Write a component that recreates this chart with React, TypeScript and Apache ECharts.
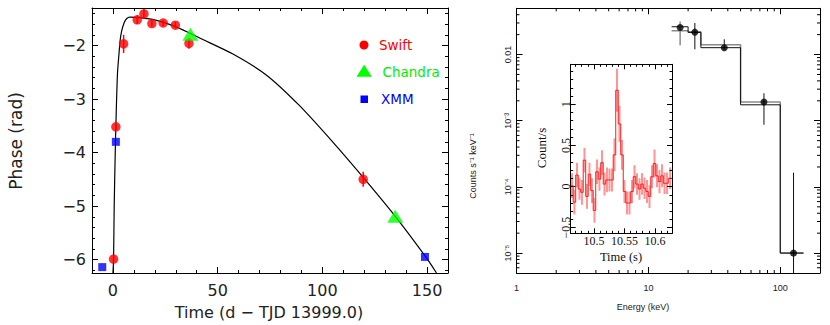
import React, { useEffect, useRef } from 'react';
import * as echarts from 'echarts';

// ---------- Left panel: phase vs time ----------
const curveT = [0.0, 0.3, 0.6, 1.1, 1.4, 1.75, 2.2, 2.9, 3.4, 4.1, 5.4, 6.5, 8.1, 12.9, 20.8, 28.7, 36.7, 41.4, 57.3, 73.2, 89.0, 104.9, 119.2, 135.0, 149.4, 154.5];
const curveP = [-6.25, -6.0, -5.0, -4.0, -3.5, -3.0, -2.5, -2.15, -1.92, -1.74, -1.57, -1.5, -1.47, -1.48, -1.53, -1.63, -1.77, -1.86, -2.16, -2.55, -3.12, -3.8, -4.45, -5.2, -5.95, -6.25];

const swiftT = [0.3, 1.4, 5.1, 11.6, 14.8, 18.6, 24.0, 29.8, 36.3, 119.5];
const swiftP = [-5.99, -3.52, -1.97, -1.52, -1.41, -1.59, -1.58, -1.62, -1.96, -4.5];
const swiftErr = [0.05, 0.06, 0.17, 0.08, 0.09, 0.06, 0.06, 0.06, 0.1, 0.14];

const chandraT = [37.0, 134.8];
const chandraP = [-1.79, -5.19];

const xmmT = [-5.1, 1.4, 149.0];
const xmmP = [-6.14, -3.8, -5.95];

const legendNames = ['Swift', 'Chandra', 'XMM'];

// ---------- Right panel: spectrum ----------
const specE = [17.4, 22.5, 37.6, 75.2, 126];
const specY = [0.0257, 0.0218, 0.0127, 0.00192, 1.0e-5];
const specLo = [0.0138, 0.012, 0.0116, 0.00087, 5e-6];
const specHi = [0.0316, 0.03, 0.017, 0.0026, 1.64e-4];
const binEdges = [15, 20, 25, 50, 100, 150];
const modelBlack = [0.0263, 0.0216, 0.0127, 0.00174, 1.0e-5];
const modelGray = [0.0229, 0.0222, 0.0141, 0.00192, 1.0e-5];

// ---------- Inset: light curve ----------
const lcEdges = [10.462, 10.4661, 10.4702, 10.4743, 10.4784, 10.4825, 10.4866, 10.4907, 10.4948, 10.4989, 10.503, 10.5071, 10.5112, 10.5153, 10.5194, 10.5235, 10.5276, 10.5317, 10.5358, 10.5399, 10.544, 10.5481, 10.5522, 10.5563, 10.5604, 10.5645, 10.5686, 10.5727, 10.5768, 10.5809, 10.585, 10.5891, 10.5932, 10.5973, 10.6014, 10.6055, 10.6096, 10.6137, 10.6178, 10.6219, 10.628];
const lcRate = [0.01, -0.19, 0.14, -0.03, -0.07, 0.32, -0.12, 0.15, -0.05, -0.29, 0.18, 0.09, 0.29, 0.03, 0.08, 0.08, 0.08, 0.385, 1.17, 0.76, 0.385, -0.06, -0.2, -0.2, -0.06, 0.12, 0.03, -0.03, 0.03, -0.02, -0.06, -0.12, 0.12, 0.28, 0.13, 0.06, 0.13, 0.04, 0.04, 0.1];
const lcErr = [0.15, 0.15, 0.15, 0.13, 0.15, 0.15, 0.15, 0.14, 0.15, 0.15, 0.15, 0.14, 0.15, 0.14, 0.15, 0.14, 0.14, 0.2, 0.26, 0.22, 0.18, 0.14, 0.14, 0.14, 0.14, 0.14, 0.13, 0.13, 0.13, 0.13, 0.14, 0.14, 0.14, 0.17, 0.14, 0.14, 0.14, 0.13, 0.13, 0.13];

const LEFT_FONT = 'DejaVu Sans';
const RIGHT_FONT = 'Liberation Sans';
const INSET_FONT = 'Liberation Serif';
const TXT = '#222';

const line1 = { color: '#000', width: 1 };
const minus = (v: number) => String(v).replace('-', '\u2212');
const sup: Record<string, string> = { '-': '\u207B', '0': '\u2070', '1': '\u00B9', '2': '\u00B2', '3': '\u00B3', '4': '\u2074', '5': '\u2075', '6': '\u2076', '7': '\u2077', '8': '\u2078', '9': '\u2079' };
const logLabel = (v: number) => {
  const e = Math.round(Math.log10(v));
  if (e === -2) return '0.01';
  return '10' + String(e).split('').map((c) => sup[c]).join('');
};

function valAxis(o: any) {
  const { show = true, tickLen = 6, minorLen = 3, minor = true, minorSplit = 5, label = {}, ...rest } = o;
  return {
    type: 'value',
    axisLine: { show: true, onZero: false, lineStyle: line1 },
    axisTick: { show: true, inside: true, length: tickLen, lineStyle: line1 },
    minorTick: { show: minor, splitNumber: minorSplit, length: minorLen, lineStyle: line1 },
    splitLine: { show: false },
    minorSplitLine: { show: false },
    axisLabel: show ? { showMinLabel: false, showMaxLabel: false, ...label } : { show: false },
    ...rest,
  };
}

function logAxis(o: any) {
  const { show = true, label = {}, ...rest } = o;
  return {
    type: 'log',
    logBase: 10,
    axisLine: { show: true, onZero: false, lineStyle: line1 },
    axisTick: { show: true, inside: true, length: 6, lineStyle: line1 },
    minorTick: { show: false },
    splitLine: { show: false },
    minorSplitLine: { show: false },
    axisLabel: show ? { ...label } : { show: false },
    ...rest,
  };
}

// axis decoration: log minor tick positions
const xMinor: number[][] = [];
[1, 10, 100].forEach((d) => { for (let k = 2; k <= 9; k++) { const v = d * k; if (v < 200) xMinor.push([v, 1e-3]); } });
const yMinor: number[][] = [];
[1e-6, 1e-5, 1e-4, 1e-3, 1e-2].forEach((d) => { for (let k = 2; k <= 9; k++) { const v = d * k; if (v > 5e-6 && v < 0.05) yMinor.push([2, v]); } });

function buildOption() {
  const errRender = (color: string, width: number) => (params: any, api: any) => {
    const x = api.value(0);
    const p1 = api.coord([x, api.value(1)]);
    const p2 = api.coord([x, api.value(2)]);
    return { type: 'line', shape: { x1: p1[0], y1: p1[1], x2: p2[0], y2: p2[1] }, style: { stroke: color, lineWidth: width } };
  };

  return {
    animation: false,
    backgroundColor: '#fff',
    grid: [
      { left: 92, top: 8, width: 356, height: 265 },
      { left: 516.5, top: 8.3, width: 303.5, height: 264.7 },
      { left: 570.7, top: 64.3, width: 101.3, height: 169, show: true, backgroundColor: '#fff', borderWidth: 0, z: 5 },
    ],
    xAxis: [
      valAxis({ gridIndex: 0, min: -10, max: 160, splitNumber: 3, label: { fontSize: 16, fontFamily: LEFT_FONT, color: TXT, margin: 9 } }),
      valAxis({ gridIndex: 0, position: 'top', min: -10, max: 160, splitNumber: 3, show: false }),
      logAxis({ gridIndex: 1, min: 1, max: 200, label: { fontSize: 9, fontFamily: RIGHT_FONT, color: TXT, margin: 10, showMaxLabel: false, formatter: (v: number) => String(Math.round(v)) } }),
      logAxis({ gridIndex: 1, position: 'top', min: 1, max: 200, show: false }),
      valAxis({ gridIndex: 2, min: 10.462, max: 10.628, splitNumber: 3, tickLen: 5, minorLen: 2.5, z: 6, label: { fontSize: 12, fontFamily: INSET_FONT, color: '#111', margin: 2 } }),
      valAxis({ gridIndex: 2, position: 'top', min: 10.462, max: 10.628, splitNumber: 3, tickLen: 5, minorLen: 2.5, show: false, z: 6 }),
    ],
    yAxis: [
      valAxis({ gridIndex: 0, min: -6.25, max: -1.3, splitNumber: 5, label: { fontSize: 16, fontFamily: LEFT_FONT, color: TXT, margin: 6, formatter: minus } }),
      valAxis({ gridIndex: 0, position: 'right', min: -6.25, max: -1.3, splitNumber: 5, show: false }),
      logAxis({ gridIndex: 1, min: 5e-6, max: 0.05, label: { fontSize: 9, fontFamily: RIGHT_FONT, color: TXT, margin: 4.5, rotate: 90, showMinLabel: false, showMaxLabel: false, formatter: logLabel } }),
      logAxis({ gridIndex: 1, position: 'right', min: 5e-6, max: 0.05, show: false }),
      valAxis({ gridIndex: 2, min: -0.568, max: 1.485, splitNumber: 4, tickLen: 5, minorLen: 2.5, z: 6, label: { fontSize: 12, fontFamily: INSET_FONT, color: '#111', margin: -1, rotate: 90, formatter: minus } }),
      valAxis({ gridIndex: 2, position: 'right', min: -0.568, max: 1.485, splitNumber: 4, tickLen: 5, minorLen: 2.5, show: false, z: 6 }),
    ],
    series: [
      // left
      { type: 'line', xAxisIndex: 0, yAxisIndex: 0, data: curveT.map((t, i) => [t, curveP[i]]), showSymbol: false, symbol: 'none', smooth: 0.25, lineStyle: { color: '#000', width: 1.2 }, z: 2 },
      { type: 'custom', xAxisIndex: 0, yAxisIndex: 0, data: swiftT.map((t, i) => [t, swiftP[i] - swiftErr[i], swiftP[i] + swiftErr[i]]), encode: { x: 0, y: [1, 2] }, renderItem: errRender('#ff0000', 1.5), z: 3 },
      { type: 'scatter', name: legendNames[0], xAxisIndex: 0, yAxisIndex: 0, data: swiftT.map((t, i) => [t, swiftP[i]]), symbol: 'circle', symbolSize: 9.5, itemStyle: { color: '#ff0000' }, z: 4 },
      { type: 'scatter', name: legendNames[1], xAxisIndex: 0, yAxisIndex: 0, data: chandraT.map((t, i) => [t, chandraP[i]]), symbol: 'triangle', symbolSize: [16, 13], itemStyle: { color: '#00ff00' }, z: 5 },
      { type: 'scatter', name: legendNames[2], xAxisIndex: 0, yAxisIndex: 0, data: xmmT.map((t, i) => [t, xmmP[i]]), symbol: 'rect', symbolSize: 8, itemStyle: { color: '#0000ff' }, z: 5 },
      // right
      { type: 'line', xAxisIndex: 2, yAxisIndex: 2, step: 'end', data: [...binEdges.slice(0, -1).map((e, i) => [e, modelGray[i]]), [binEdges[binEdges.length - 1], modelGray[modelGray.length - 1]]], showSymbol: false, symbol: 'none', lineStyle: { color: '#8a8a8a', width: 1.5 }, z: 2 },
      { type: 'line', xAxisIndex: 2, yAxisIndex: 2, step: 'end', data: [...binEdges.slice(0, -1).map((e, i) => [e, modelBlack[i]]), [binEdges[binEdges.length - 1], modelBlack[modelBlack.length - 1]]], showSymbol: false, symbol: 'none', lineStyle: { color: '#111', width: 1 }, z: 2 },
      {
        type: 'custom', xAxisIndex: 2, yAxisIndex: 2, clip: true,
        data: specE.map((e, i) => [e, specLo[i], specHi[i]]), encode: { x: 0, y: [1, 2] },
        renderItem: (params: any, api: any) => {
          const x = api.value(0);
          const p1 = api.coord([x, api.value(1)]);
          const p2 = api.coord([x, api.value(2)]);
          return { type: 'line', shape: { x1: p1[0], y1: p1[1], x2: p2[0], y2: p2[1] }, style: { stroke: params.dataIndex === 0 ? '#8a8a8a' : '#111', lineWidth: params.dataIndex === 0 ? 1.5 : 1 } };
        },
        z: 3,
      },
      { type: 'scatter', xAxisIndex: 2, yAxisIndex: 2, data: specE.map((e, i) => [e, specY[i]]), symbol: 'circle', symbolSize: 7, itemStyle: { color: '#000' }, z: 4 },
      {
        type: 'custom', xAxisIndex: 2, yAxisIndex: 2, data: xMinor, encode: { x: 0, y: 1 }, silent: true,
        renderItem: (params: any, api: any) => {
          const v = api.value(0);
          const b = api.coord([v, 5e-6]);
          const t = api.coord([v, 0.05]);
          return { type: 'group', children: [
            { type: 'line', shape: { x1: b[0], y1: b[1], x2: b[0], y2: b[1] - 3 }, style: { stroke: '#000', lineWidth: 1 } },
            { type: 'line', shape: { x1: t[0], y1: t[1], x2: t[0], y2: t[1] + 3 }, style: { stroke: '#000', lineWidth: 1 } },
          ] };
        },
      },
      {
        type: 'custom', xAxisIndex: 2, yAxisIndex: 2, data: yMinor, encode: { x: 0, y: 1 }, silent: true,
        renderItem: (params: any, api: any) => {
          const v = api.value(1);
          const l = api.coord([1, v]);
          const r = api.coord([200, v]);
          return { type: 'group', children: [
            { type: 'line', shape: { x1: l[0], y1: l[1], x2: l[0] + 3, y2: l[1] }, style: { stroke: '#000', lineWidth: 1 } },
            { type: 'line', shape: { x1: r[0], y1: r[1], x2: r[0] - 3, y2: r[1] }, style: { stroke: '#000', lineWidth: 1 } },
          ] };
        },
      },
      // inset
      {
        type: 'custom', xAxisIndex: 4, yAxisIndex: 4, clip: true, z: 6,
        data: lcRate.map((v, i) => [(lcEdges[i] + lcEdges[i + 1]) / 2, v - lcErr[i], v + lcErr[i]]), encode: { x: 0, y: [1, 2] },
        renderItem: errRender('rgba(255,60,60,0.55)', 2),
      },
      { type: 'line', xAxisIndex: 4, yAxisIndex: 4, step: 'end', z: 7, data: [...lcRate.map((v, i) => [lcEdges[i], v]), [lcEdges[lcEdges.length - 1], lcRate[lcRate.length - 1]]], showSymbol: false, symbol: 'none', lineStyle: { color: '#ff1a1a', width: 1 } },
    ],
    graphic: [
      { type: 'text', x: 16, y: 141, rotation: Math.PI / 2, style: { text: 'Phase (rad)', fontSize: 17, fontFamily: LEFT_FONT, fill: TXT, textAlign: 'center', textVerticalAlign: 'middle' } },
      { type: 'text', x: 269, y: 312, style: { text: 'Time (d \u2212 TJD 13999.0)', fontSize: 16, fontFamily: LEFT_FONT, fill: TXT, textAlign: 'center', textVerticalAlign: 'middle' } },
      { type: 'circle', shape: { cx: 364, cy: 45, r: 4.5 }, style: { fill: '#ff0000' } },
      { type: 'polygon', shape: { points: [[356.5, 76.7], [371.8, 76.7], [364.2, 64.8]] }, style: { fill: '#00ff00' } },
      { type: 'rect', shape: { x: 360.5, y: 95.5, width: 7.5, height: 7.5 }, style: { fill: '#0000ff' } },
      { type: 'text', x: 379, y: 45, style: { text: legendNames[0], fontSize: 13.5, fontFamily: LEFT_FONT, fill: '#ff0000', textVerticalAlign: 'middle' } },
      { type: 'text', x: 382.5, y: 71.5, style: { text: legendNames[1], fontSize: 13.5, fontFamily: LEFT_FONT, fill: '#00ee00', textVerticalAlign: 'middle' } },
      { type: 'text', x: 381, y: 99, style: { text: legendNames[2], fontSize: 13.5, fontFamily: LEFT_FONT, fill: '#0000ff', textVerticalAlign: 'middle' } },
      { type: 'text', x: 473, y: 166, rotation: Math.PI / 2, style: { text: 'Counts s\u207B\u00B9 keV\u207B\u00B9', fontSize: 9, fontFamily: RIGHT_FONT, fill: TXT, textAlign: 'center', textVerticalAlign: 'middle' } },
      { type: 'text', x: 643, y: 307, style: { text: 'Energy (keV)', fontSize: 9, fontFamily: RIGHT_FONT, fill: TXT, textAlign: 'center', textVerticalAlign: 'middle' } },
      { type: 'text', x: 541, y: 148, rotation: Math.PI / 2, z: 10, style: { text: 'Count/s', fontSize: 13, fontFamily: INSET_FONT, fill: '#111', textAlign: 'center', textVerticalAlign: 'middle' } },
      { type: 'text', x: 621, y: 257, z: 10, style: { text: 'Time (s)', fontSize: 12.5, fontFamily: INSET_FONT, fill: '#111', textAlign: 'center', textVerticalAlign: 'middle' } },
    ],
  };
}

export default function App() {
  const ref = useRef<HTMLDivElement>(null);
  useEffect(() => {
    if (!ref.current) return;
    const chart = echarts.init(ref.current, null, { renderer: 'svg' });
    chart.setOption(buildOption() as any);
    return () => chart.dispose();
  }, []);
  return <div ref={ref} style={{ position: 'fixed', left: 0, top: 0, width: 830, height: 325, background: '#fff' }} />;
}
